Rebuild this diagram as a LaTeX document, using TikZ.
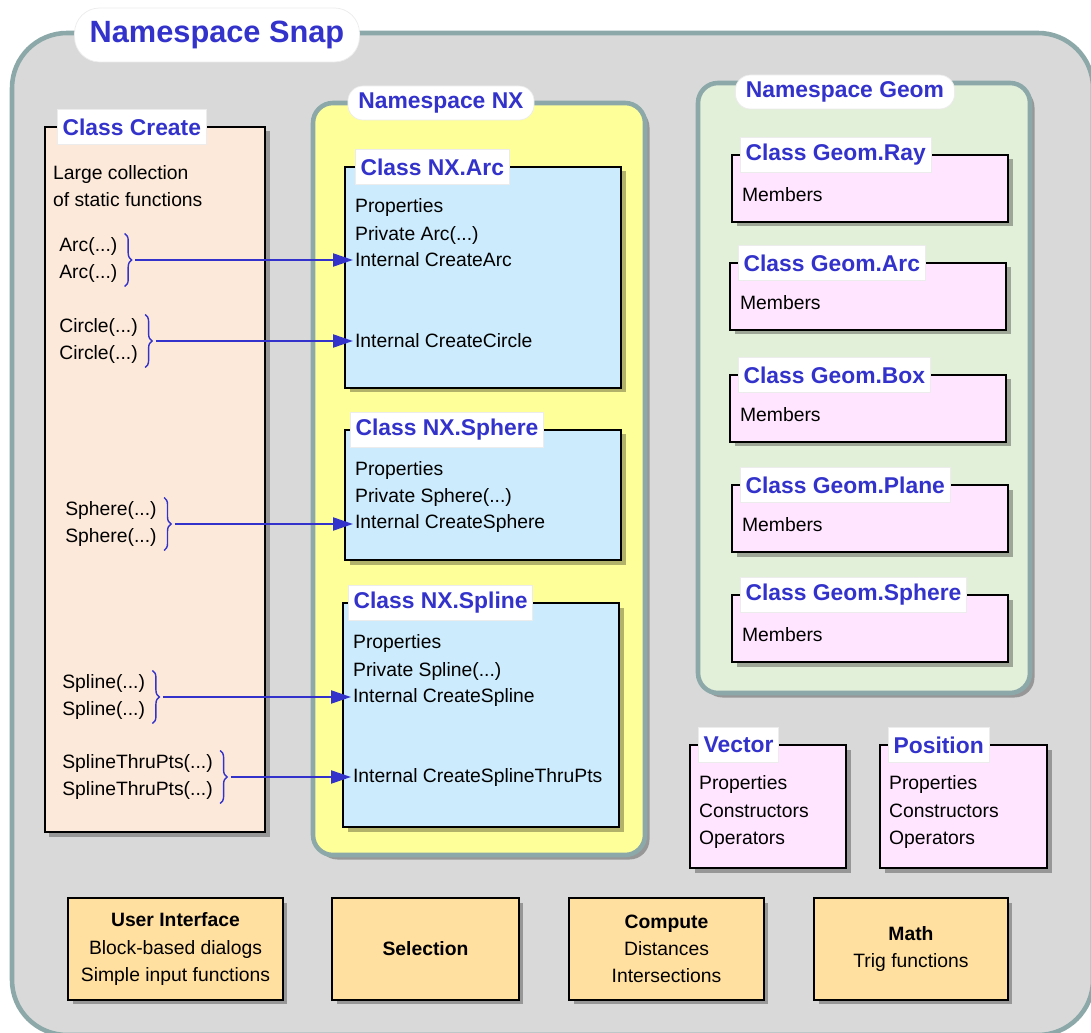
\documentclass[tikz,border=0pt]{standalone}
\usepackage{fontspec}
\setmainfont{Liberation Sans}
\usetikzlibrary{arrows.meta, shadows, decorations.pathreplacing}
\definecolor{cTitle}{RGB}{51,51,204}
\definecolor{cSnapbg}{RGB}{217,217,217}
\definecolor{cFrame}{RGB}{140,168,168}
\definecolor{cCreatebg}{RGB}{253,233,217}
\definecolor{cNXbg}{RGB}{255,255,153}
\definecolor{cNXclassbg}{RGB}{204,235,252}
\definecolor{cGeombg}{RGB}{226,239,217}
\definecolor{cGeomclassbg}{RGB}{255,229,255}
\definecolor{cToolbg}{RGB}{255,224,160}

\begin{document}
\begin{tikzpicture}[x=0.02cm, y=-0.02cm, >={Triangle[length=4mm, width=2.6mm]}, font=\fontsize{11}{15.5}\selectfont]

% ------------------- styles -------------------
\tikzstyle{nsframe} = [draw=cFrame, line width=2.6pt, rounded corners=4mm, drop shadow={shadow xshift=0.9mm, shadow yshift=-0.9mm, fill=black, opacity=0.3}]
\tikzstyle{nslabel} = [draw=gray!15, fill=white, rounded corners=3mm, text=cTitle, font=\fontsize{13}{15}\selectfont\bfseries, minimum height=0.68cm, inner xsep=6pt]
\tikzstyle{classbox} = [draw=black, line width=1.2pt, drop shadow={shadow xshift=0.9mm, shadow yshift=-0.9mm, fill=black, opacity=0.3}]
\tikzstyle{classlabel} = [draw=gray!15, fill=white, text=cTitle, font=\fontsize{13}{15}\selectfont\bfseries, anchor=west, minimum height=0.7cm, inner xsep=3pt]
\tikzstyle{member} = [anchor=west, align=left, inner sep=1pt]
\tikzstyle{overloads} = [anchor=west, align=left, inner xsep=0pt, inner ysep=2pt]
\tikzstyle{fnbrace} = [draw=cTitle, thick, decorate, decoration={brace, amplitude=1.4mm}]
\tikzstyle{callline} = [->, cTitle, line width=1.2pt]
\tikzstyle{toolbox} = [draw=black, line width=1.2pt, fill=cToolbg, align=center, minimum height=2.04cm, drop shadow={shadow xshift=0.9mm, shadow yshift=-0.9mm, fill=black, opacity=0.3}]

\useasboundingbox (0,0) rectangle (1091,1033);

% ------------------- Namespace Snap -------------------
\draw[draw=cFrame, line width=2.6pt, fill=cSnapbg, rounded corners=1.1cm] (12,33) rectangle (1093,1035);
\node[nslabel, font=\fontsize{17.5}{20}\selectfont\bfseries, minimum width=5.7cm, minimum height=1.08cm, rounded corners=5mm] (SnapLbl) at (217,35) {Namespace Snap};

% ------------------- Class Create -------------------
\draw[classbox, fill=cCreatebg] (45,127) rectangle (265,832);
\node[classlabel] (CreateLbl) at (57,127) {Class Create};
\node[member] (CreateDesc) at (51,186) {Large collection\\of static functions};
\node[overloads] (ArcFn) at (59,260) {Arc(...)\\Arc(...)};
\node[overloads] (CircleFn) at (59,341) {Circle(...)\\Circle(...)};
\node[overloads] (SphereFn) at (65,524) {Sphere(...)\\Sphere(...)};
\node[overloads] (SplineFn) at (62,697) {Spline(...)\\Spline(...)};
\node[overloads] (ThruFn) at (62,777) {SplineThruPts(...)\\SplineThruPts(...)};

% ------------------- Namespace NX -------------------
\draw[nsframe, fill=cNXbg] (313,103) rectangle (645,855);
\node[nslabel] (NXLbl) at (441,103) {Namespace NX};

% NX.Arc
\draw[classbox, fill=cNXclassbg] (345,167) rectangle (621,388);
\node[classlabel] (ArcLbl) at (355,167) {Class NX.Arc};
\node[member] (ArcMem) at (353,221.5) {Properties\\Private Arc(...)};
\node[member] (CreateArc) at (353,260) {Internal CreateArc};
\node[member] (CreateCircle) at (353,341) {Internal CreateCircle};

% NX.Sphere
\draw[classbox, fill=cNXclassbg] (345,430) rectangle (621,560);
\node[classlabel] (SphereLbl) at (350,430) {Class NX.Sphere};
\node[member] (SphereMem) at (353,484) {Properties\\Private Sphere(...)};
\node[member] (CreateSphere) at (353,524) {Internal CreateSphere};

% NX.Spline
\draw[classbox, fill=cNXclassbg] (343,603) rectangle (619,827);
\node[classlabel] (SplineLbl) at (348,603) {Class NX.Spline};
\node[member] (SplineMem) at (351,657.5) {Properties\\Private Spline(...)};
\node[member] (CreateSpline) at (351,697) {Internal CreateSpline};
\node[member] (CreateThru) at (351,777) {Internal CreateSplineThruPts};

% ------------------- Namespace Geom -------------------
\draw[nsframe, fill=cGeombg] (698,83) rectangle (1030,693);
\node[nslabel] (GeomLbl) at (845,92) {Namespace Geom};

\foreach \cls/\x/\y in {Ray/732/155, Arc/730/263, Box/730/375, Plane/732/485, Sphere/732/595} {
  \draw[classbox, fill=cGeomclassbg] (\x,\y) rectangle ++(276,67);
  \node[classlabel] (Geom\cls Lbl) at (\x+8,\y) {Class Geom.\cls};
  \node[member] (Geom\cls Mem) at (\x+8,\y+40) {Members};
}

% Vector, Position
\draw[classbox, fill=cGeomclassbg] (690,745) rectangle (846,868);
\node[classlabel] (VectorLbl) at (698,745) {Vector};
\node[member] (VectorMem) at (697,812) {Properties\\Constructors\\Operators};

\draw[classbox, fill=cGeomclassbg] (880,745) rectangle (1047,868);
\node[classlabel] (PositionLbl) at (888,745) {Position};
\node[member] (PositionMem) at (887,812) {Properties\\Constructors\\Operators};

% ------------------- helpers -------------------
\node[toolbox, minimum width=4.3cm] (UI) at (175.5,949) {\textbf{User Interface}\\Block-based dialogs\\Simple input functions};
\node[toolbox, minimum width=3.74cm] (Selection) at (425.5,949) {\textbf{Selection}};
\node[toolbox, minimum width=3.9cm] (Compute) at (666.5,949) {\textbf{Compute}\\Distances\\Intersections};
\node[toolbox, minimum width=3.88cm] (Math) at (911,949) {\textbf{Math}\\Trig functions};

% ------------------- Create -> NX calls -------------------
\foreach \fn/\target in {ArcFn/CreateArc, CircleFn/CreateCircle, SphereFn/CreateSphere, SplineFn/CreateSpline, ThruFn/CreateThru} {
  \draw[fnbrace] ([xshift=4pt]\fn.north east) -- ([xshift=4pt]\fn.south east);
  \coordinate (\fn Tip) at ([xshift=10pt]\fn.east);
  \draw[callline] (\fn Tip) -- (\target.west);
}

\end{tikzpicture}
\end{document}
